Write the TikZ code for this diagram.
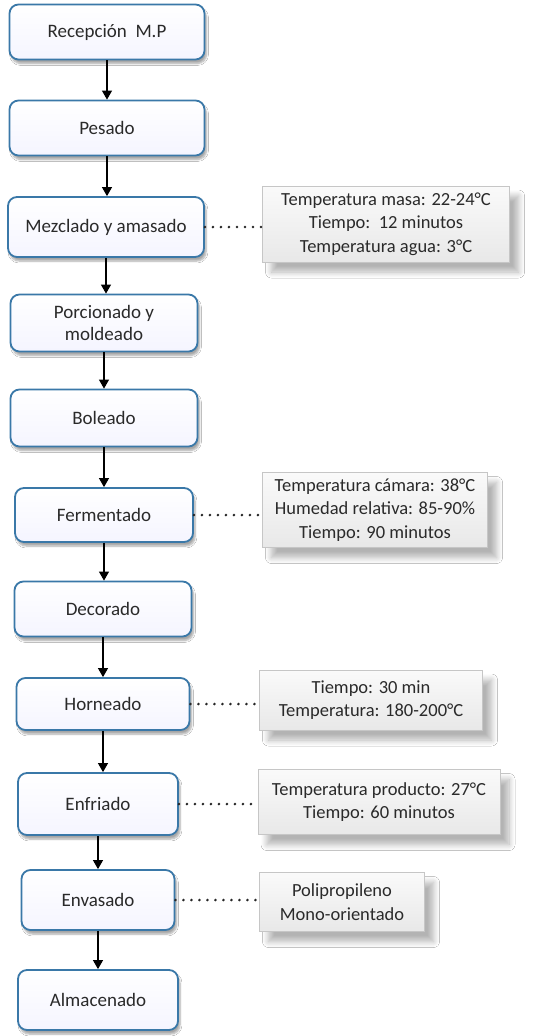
\documentclass[tikz,border=0pt]{standalone}
\usepackage{fontspec}
\setmainfont{Carlito}
\usetikzlibrary{arrows.meta,shadows.blur}
\definecolor{boxblue}{HTML}{3A78A8}
\definecolor{txt}{HTML}{2A2A2A}
\tikzset{
  stepbox/.style={draw=boxblue, line width=1.8pt, rounded corners=9pt,
    top color=white, bottom color=blue!4, text=txt, align=center,
    font=\fontsize{19}{22}\selectfont,
    blur shadow={shadow xshift=2pt, shadow yshift=-4pt, shadow blur steps=6, shadow opacity=35}},
  notebox/.style={draw=gray!45, line width=0.6pt, top color=gray!4, bottom color=gray!18,
    text=txt, align=center, font=\fontsize{18.5}{23.5}\selectfont,
    blur shadow={shadow xshift=9pt, shadow yshift=-10pt, shadow blur radius=6pt, shadow blur steps=10, shadow opacity=30}},
  flow/.style={line width=1.1pt, black, -{Triangle[width=10pt,length=9pt]}},
  dots/.style={line width=2.8pt, black!85, line cap=round, dash pattern=on 0pt off 8pt}
}
\begin{document}
\begin{tikzpicture}[x=1pt,y=-1pt]
\useasboundingbox[fill=white] (0,0) rectangle (537,1036);
\node[stepbox, minimum width=195pt, minimum height=55pt] (n1) at (107,32) {Recepción\ \ M.P};
\node[stepbox, minimum width=195pt, minimum height=55pt] (n2) at (107,128) {Pesado};
\node[stepbox, minimum width=196pt, minimum height=60pt] (n3) at (106,227) {Mezclado y amasado};
\node[stepbox, minimum width=187pt, minimum height=57pt] (n4) at (104,323) {Porcionado y\\moldeado};
\node[stepbox, minimum width=187pt, minimum height=57pt] (n5) at (104,418) {Boleado};
\node[stepbox, minimum width=178pt, minimum height=54pt] (n6) at (104,515) {Fermentado};
\node[stepbox, minimum width=177pt, minimum height=55pt] (n7) at (103,609) {Decorado};
\node[stepbox, minimum width=173pt, minimum height=52pt] (n8) at (103,704) {Horneado};
\node[stepbox, minimum width=160pt, minimum height=62pt] (n9) at (98,804) {Enfriado};
\node[stepbox, minimum width=153pt, minimum height=60pt] (n10) at (98,900) {Envasado};
\node[stepbox, minimum width=160pt, minimum height=60pt] (n11) at (98,1000) {Almacenado};

\node[notebox, minimum width=247pt, minimum height=76pt] (c1) at (386,224) {Temperatura masa: 22-24°C\\Tiempo:\ \ 12 minutos\\Temperatura agua: 3°C};
\node[notebox, minimum width=225pt, minimum height=75pt] (c2) at (375,510) {Temperatura cámara: 38°C\\Humedad relativa: 85-90\%\\Tiempo: 90 minutos};
\node[notebox, minimum width=223pt, minimum height=60pt] (c3) at (371,700) {Tiempo: 30 min\\Temperatura: 180-200°C};
\node[notebox, minimum width=242pt, minimum height=65pt] (c4) at (379,802) {Temperatura producto: 27°C\\Tiempo: 60 minutos};
\node[notebox, minimum width=165pt, minimum height=59pt] (c5) at (342,902) {Polipropileno\\Mono-orientado};

\foreach \a/\b in {n1/n2,n2/n3,n3/n4,n4/n5,n5/n6,n6/n7,n7/n8,n8/n9,n9/n10,n10/n11}
  \draw[flow] (\a.south) -- (\a.south |- \b.north);

\draw[dots] (n3.east) -- (c1.west |- n3.east);
\draw[dots] (n6.east) -- (c2.west |- n6.east);
\draw[dots] (n8.east) -- (c3.west |- n8.east);
\draw[dots] (n9.east) -- (c4.west |- n9.east);
\draw[dots] (n10.east) -- (c5.west |- n10.east);
\end{tikzpicture}
\end{document}
